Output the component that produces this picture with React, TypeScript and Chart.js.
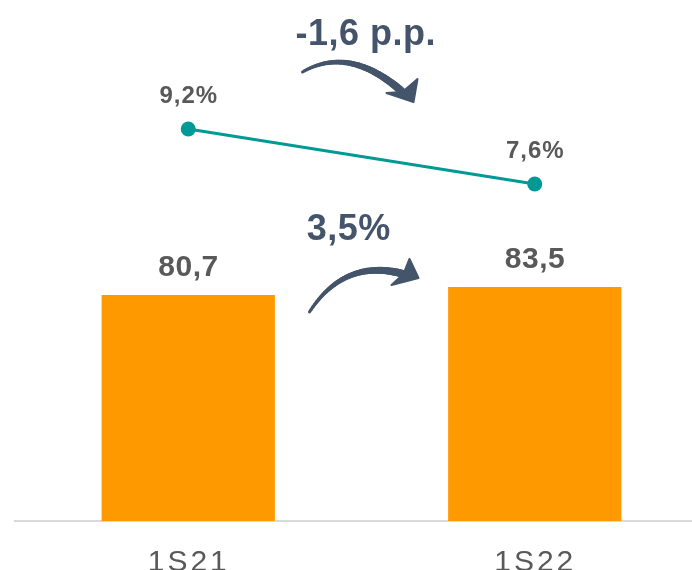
import React, { useEffect, useRef } from "react";
import { Chart, registerables } from "chart.js";

Chart.register(...registerables);

const categories = ["1S21", "1S22"];
const barValues = [80.7, 83.5];
const barLabels = ["80,7", "83,5"];
const lineValues = [9.2, 7.6];
const lineLabels = ["9,2%", "7,6%"];
const lineChangeLabel = "-1,6 p.p.";
const barChangeLabel = "3,5%";

const ORANGE = "#FF9900";
const TEAL = "#009A96";
const GRAY = "#595959";
const SLATE = "#44546A";
const AXIS = "#D9D9D9";
const FONT = "'Liberation Sans', Arial, sans-serif";

type P = [number, number];

function drawArrow(
  ctx: CanvasRenderingContext2D,
  p0: P,
  c: P,
  p2: P,
  tip: P,
  w1: P,
  w2: P,
  wStart: number,
  wEnd: number
) {
  ctx.save();
  ctx.strokeStyle = SLATE;
  ctx.fillStyle = SLATE;
  ctx.lineCap = "round";
  const n = 40;
  const pt = (t: number): P => [
    (1 - t) * (1 - t) * p0[0] + 2 * (1 - t) * t * c[0] + t * t * p2[0],
    (1 - t) * (1 - t) * p0[1] + 2 * (1 - t) * t * c[1] + t * t * p2[1],
  ];
  for (let i = 0; i < n; i++) {
    const a = pt(i / n);
    const b = pt((i + 1) / n);
    ctx.lineWidth = wStart + (wEnd - wStart) * (i / n);
    ctx.beginPath();
    ctx.moveTo(a[0], a[1]);
    ctx.lineTo(b[0], b[1]);
    ctx.stroke();
  }
  ctx.lineJoin = "round";
  ctx.lineWidth = 2;
  ctx.beginPath();
  ctx.moveTo(tip[0], tip[1]);
  ctx.lineTo(w1[0], w1[1]);
  ctx.lineTo(p2[0], p2[1]);
  ctx.lineTo(w2[0], w2[1]);
  ctx.closePath();
  ctx.fill();
  ctx.stroke();
  ctx.restore();
}

function text(
  ctx: CanvasRenderingContext2D,
  s: string,
  x: number,
  y: number,
  font: string,
  color: string,
  spacing: number
) {
  ctx.save();
  ctx.font = font;
  ctx.fillStyle = color;
  ctx.textBaseline = "alphabetic";
  (ctx as any).letterSpacing = spacing + "px";
  const w = ctx.measureText(s).width - spacing;
  ctx.textAlign = "left";
  ctx.fillText(s, x - w / 2, y);
  ctx.restore();
}

const labelsPlugin = {
  id: "customLabels",
  afterDatasetsDraw(chart: any) {
    const ctx: CanvasRenderingContext2D = chart.ctx;
    const barMeta = chart.getDatasetMeta(0);
    const lineMeta = chart.getDatasetMeta(1);
    const xs = chart.scales.x;

    barMeta.data.forEach((el: any, i: number) => {
      text(ctx, barLabels[i], el.x, el.y - 19, `bold 30px ${FONT}`, GRAY, 0.5);
    });
    lineMeta.data.forEach((el: any, i: number) => {
      text(ctx, lineLabels[i], el.x, el.y - 26, `bold 24px ${FONT}`, GRAY, 1);
    });
    categories.forEach((c, i) => {
      text(ctx, c, xs.getPixelForValue(i) - 1, chart.chartArea.bottom + 50, `30px ${FONT}`, GRAY, 3);
    });

    const midX = (xs.getPixelForValue(0) + xs.getPixelForValue(1)) / 2;
    // line change arrow
    const ly = lineMeta.data[0].y;
    const a = (dx: number, dy: number): P => [midX + dx, ly + dy];
    drawArrow(ctx, a(-59, -57), a(-12, -84), a(41, -37), a(52, -27), a(56, -50), a(25, -36), 3, 8);
    text(ctx, lineChangeLabel, midX + 4, ly - 84, `bold 36px ${FONT}`, SLATE, 0.5);
    // bar change arrow
    const by = barMeta.data[0].y;
    const b = (dx: number, dy: number): P => [midX + dx, by + dy];
    drawArrow(ctx, b(-52, 17), b(-17, -37), b(42, -21), b(57, -17), b(48, -36), b(30, -10), 3, 8);
    text(ctx, barChangeLabel, midX - 13, by - 55, `bold 36px ${FONT}`, SLATE, 0.5);
  },
};

export default function App() {
  const ref = useRef<HTMLCanvasElement | null>(null);
  useEffect(() => {
    if (!ref.current) return;
    const chart = new Chart(ref.current, {
      type: "bar",
      data: {
        labels: categories,
        datasets: [
          {
            type: "bar",
            data: barValues,
            backgroundColor: ORANGE,
            yAxisID: "y",
            barPercentage: 0.5,
            categoryPercentage: 1,
            order: 2,
          },
          {
            type: "line",
            data: lineValues,
            borderColor: TEAL,
            backgroundColor: TEAL,
            borderWidth: 3,
            pointRadius: 7.5,
            pointBackgroundColor: TEAL,
            pointBorderWidth: 0,
            yAxisID: "y2",
            order: 1,
          },
        ] as any,
      },
      options: {
        animation: false,
        responsive: false,
        devicePixelRatio: 1,
        layout: { autoPadding: false, padding: { left: 15, right: 12, top: 0, bottom: 49 } },
        plugins: { legend: { display: false }, tooltip: { enabled: false } },
        scales: {
          x: {
            display: true,
            offset: true,
            grid: { display: false, drawTicks: false },
            ticks: { display: false },
            border: { display: true, color: AXIS, width: 2 },
          },
          y: { display: false, min: 0, max: 186 },
          y2: { display: false, min: -2.2, max: 12.95, position: "right" },
        },
      } as any,
      plugins: [labelsPlugin],
    });
    return () => chart.destroy();
  }, []);
  return (
    <div
      style={{
        position: "fixed",
        left: 0,
        top: 0,
        width: 692,
        height: 570,
        overflow: "hidden",
        background: "#fff",
      }}
    >
      <canvas ref={ref} width={720} height={570} style={{ width: 720, height: 570, display: "block" }} />
    </div>
  );
}
